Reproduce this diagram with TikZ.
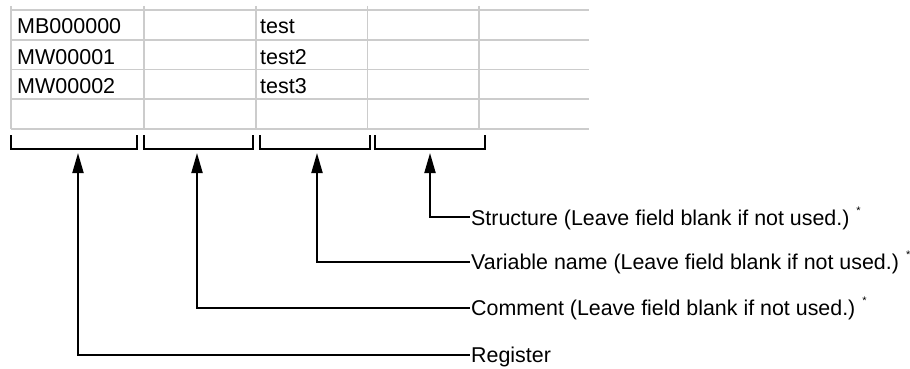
\documentclass[tikz,border=0pt]{standalone}
\usepackage{fontspec}
\setmainfont{Liberation Sans}
\usetikzlibrary{arrows.meta}
\definecolor{gridgray}{RGB}{204,204,204}
\tikzset{
  gridline/.style={draw=gridgray,line width=1.8pt},
  bracketline/.style={draw=black,line width=2pt,line join=miter},
  leader/.style={draw=black,line width=2pt,{Triangle[length=20pt,width=11pt]}-},
  celltext/.style={anchor=base west,inner sep=0pt,font=\fontsize{21.5}{24}\selectfont},
  notetext/.style={anchor=base west,inner sep=0pt,font=\fontsize{21.4}{24}\selectfont},
}
\newcommand{\myast}{\hspace{7pt}\raisebox{11pt}{\fontsize{11}{11}\selectfont *}}
\begin{document}
\begin{tikzpicture}[x=1pt,y=-1pt]
\useasboundingbox[fill=white] (0,0) rectangle (910,369);
% grid
\foreach \yy in {10,39.75,69.5,99.25,129} \draw[gridline] (11,\yy) -- (589,\yy);
\foreach \xx in {11,144,256,367.5,478.7} \draw[gridline] (\xx,6) -- (\xx,129);
% cell texts
\node[celltext] (r1) at (17,34) {MB000000};
\node[celltext] (r2) at (17,64) {MW00001};
\node[celltext] (r3) at (17,93.5) {MW00002};
\node[celltext] (v1) at (260,34) {test};
\node[celltext] (v2) at (260,64) {test2};
\node[celltext] (v3) at (260,93.5) {test3};
% brackets
\draw[bracketline] (11,135) -- (11,149) -- (137,149) -- (137,135);
\draw[bracketline] (144,135) -- (144,149) -- (253,149) -- (253,135);
\draw[bracketline] (260,135) -- (260,149) -- (370,149) -- (370,135);
\draw[bracketline] (375,135) -- (375,149) -- (485,149) -- (485,135);
% arrow tips
\coordinate (tR) at (78,153);
\coordinate (tC) at (197,153);
\coordinate (tV) at (317,153);
\coordinate (tS) at (430,153);
% line ends
\coordinate (eS) at (470,217.3);
\coordinate (eV) at (470,261.7);
\coordinate (eC) at (470,307.7);
\coordinate (eR) at (470,355);
% labels
\node[notetext] (lS) at (471,225) {Structure (Leave field blank if not used.)\myast};
\node[notetext] (lV) at (471,269.4) {Variable name (Leave field blank if not used.)\myast};
\node[notetext] (lC) at (471,315.4) {Comment (Leave field blank if not used.)\myast};
\node[notetext] (lR) at (471,362.7) {Register};
% leaders
\draw[leader] (tS) |- (eS);
\draw[leader] (tV) |- (eV);
\draw[leader] (tC) |- (eC);
\draw[leader] (tR) |- (eR);
\end{tikzpicture}
\end{document}
